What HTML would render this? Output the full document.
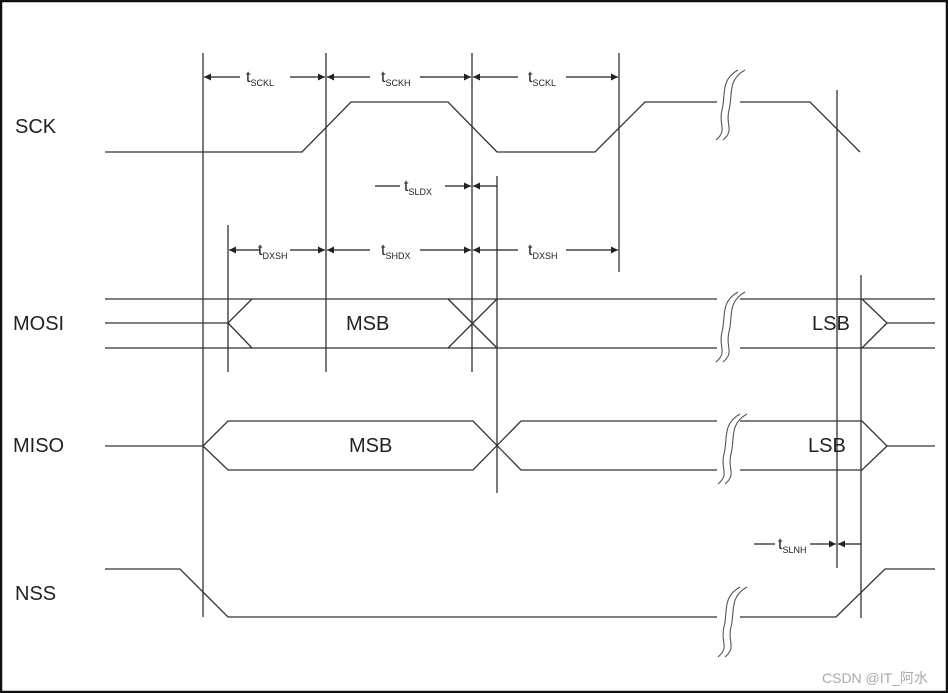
<!DOCTYPE html>
<html><head><meta charset="utf-8"><style>
html,body{margin:0;padding:0;background:#fff;}
svg{display:block;}
text{font-family:"Liberation Sans",Arial,sans-serif;fill:#222;}
</style></head><body>
<svg width="948" height="693" viewBox="0 0 948 693" xmlns="http://www.w3.org/2000/svg">
<defs>
<marker id="a" viewBox="0 0 10 10" refX="10" refY="5" markerWidth="10" markerHeight="7" markerUnits="userSpaceOnUse" orient="auto"><path d="M0,0L10,5L0,10z" fill="#222"/></marker>
</defs>
<rect x="1" y="1" width="946" height="691" fill="#fff" stroke="#111" stroke-width="2.5"/>
<g stroke="#333" stroke-width="1.3" fill="none">
<line x1="203" y1="53" x2="203" y2="617"/>
<line x1="326" y1="53" x2="326" y2="372"/>
<line x1="472" y1="53" x2="472" y2="372"/>
<line x1="619" y1="53" x2="619" y2="272"/>
<line x1="497" y1="176" x2="497" y2="493"/>
<line x1="228" y1="225" x2="228" y2="372"/>
<line x1="837" y1="90" x2="837" y2="568"/>
<line x1="861" y1="275" x2="861" y2="618"/>
<polyline points="105,152 302,152 351,102 448,102 497,152 595,152 645,102 717,102"/>
<polyline points="740,102 810,102 860,152"/>
<line x1="105" y1="299" x2="717" y2="299"/>
<line x1="105" y1="348" x2="717" y2="348"/>
<line x1="740" y1="299" x2="935" y2="299"/>
<line x1="740" y1="348" x2="935" y2="348"/>
<polyline points="105,323 228,323 252,299"/>
<line x1="228" y1="323" x2="252" y2="348"/>
<line x1="448" y1="299" x2="497" y2="348"/>
<line x1="448" y1="348" x2="497" y2="299"/>
<polyline points="862,299 887,323 862,348"/>
<line x1="887" y1="323" x2="935" y2="323"/>
<polyline points="105,446 203,446 228,421 473,421 521,470 717,470"/>
<polyline points="203,446 228,470 473,470 521,421 717,421"/>
<polyline points="740,421 862,421 887,446 935,446"/>
<polyline points="740,470 862,470 887,446"/>
<polyline points="105,569 180,569 228,617 717,617"/>
<polyline points="740,617 836,617 885,569 935,569"/>
<g stroke="#555" stroke-width="1.1">
<path d="M738,70 C720,80 726,95 722,110 C718,125 728,130 716,140"/>
<path d="M745,70 C727,80 733,95 729,110 C725,125 735,130 723,140"/>
<path d="M738,292 C720,302 726,317 722,332 C718,347 728,352 716,362"/>
<path d="M745,292 C727,302 733,317 729,332 C725,347 735,352 723,362"/>
<path d="M740,414 C722,424 728,439 724,454 C720,469 730,474 718,484"/>
<path d="M747,414 C729,424 735,439 731,454 C727,469 737,474 725,484"/>
<path d="M740,587 C722,597 728,612 724,627 C720,642 730,647 718,657"/>
<path d="M747,587 C729,597 735,612 731,627 C727,642 737,647 725,657"/>
</g>
</g>
<g stroke="#222" stroke-width="1.2" marker-end="url(#a)">
<line x1="240" y1="77" x2="204" y2="77"/><line x1="290" y1="77" x2="325" y2="77"/>
<line x1="370" y1="77" x2="327" y2="77"/><line x1="420" y1="77" x2="471" y2="77"/>
<line x1="518" y1="77" x2="473" y2="77"/><line x1="566" y1="77" x2="618" y2="77"/>
<line x1="260" y1="250" x2="229" y2="250"/><line x1="290" y1="250" x2="325" y2="250"/>
<line x1="370" y1="250" x2="327" y2="250"/><line x1="420" y1="250" x2="471" y2="250"/>
<line x1="518" y1="250" x2="473" y2="250"/><line x1="566" y1="250" x2="618" y2="250"/>
<line x1="445" y1="186" x2="471" y2="186"/><line x1="497" y1="186" x2="473" y2="186"/>
<line x1="810" y1="544" x2="836" y2="544"/><line x1="861" y1="544" x2="838" y2="544"/>
</g>
<g stroke="#222" stroke-width="1.2">
<line x1="375" y1="186" x2="400" y2="186"/>
<line x1="754" y1="544" x2="775" y2="544"/>
</g>
<g font-size="16">
<text x="246" y="82">t<tspan font-size="9" dy="4">SCKL</tspan></text>
<text x="381" y="82">t<tspan font-size="9" dy="4">SCKH</tspan></text>
<text x="528" y="82">t<tspan font-size="9" dy="4">SCKL</tspan></text>
<text x="404" y="191">t<tspan font-size="9" dy="4">SLDX</tspan></text>
<text x="258" y="255">t<tspan font-size="9" dy="4">DXSH</tspan></text>
<text x="381" y="255">t<tspan font-size="9" dy="4">SHDX</tspan></text>
<text x="528" y="255">t<tspan font-size="9" dy="4">DXSH</tspan></text>
<text x="778" y="549">t<tspan font-size="9" dy="4">SLNH</tspan></text>
</g>
<g font-size="20">
<text x="15" y="133">SCK</text>
<text x="13" y="330">MOSI</text>
<text x="13" y="452">MISO</text>
<text x="15" y="600">NSS</text>
<text x="346" y="330">MSB</text>
<text x="349" y="452">MSB</text>
<text x="812" y="330">LSB</text>
<text x="808" y="452">LSB</text>
</g>
<text x="822" y="683" font-size="14" style="fill:#aaa;font-family:'Liberation Sans','Noto Sans CJK SC',sans-serif">CSDN @IT_阿水</text>
</svg>
</body></html>
